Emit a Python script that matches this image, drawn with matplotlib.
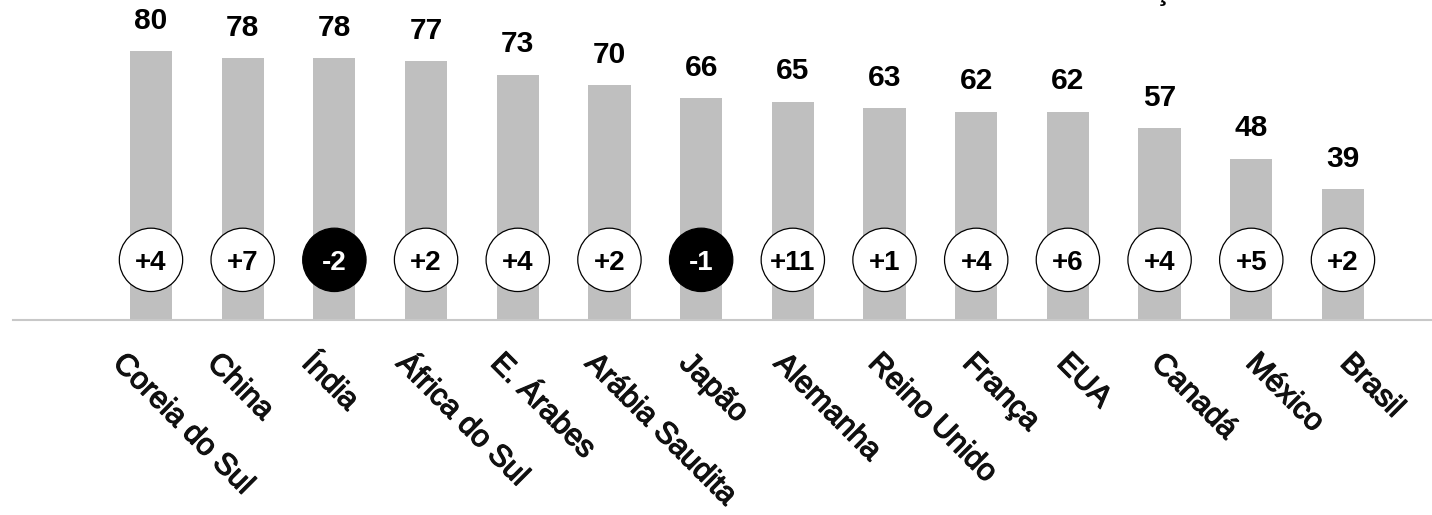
import numpy as np
import matplotlib.pyplot as plt
import matplotlib.patheffects as pe

# dados
paises = ['Coreia do Sul', 'China', 'Índia', 'África do Sul', 'E. Árabes',
          'Arábia Saudita', 'Japão', 'Alemanha', 'Reino Unido', 'França',
          'EUA', 'Canadá', 'México', 'Brasil']
valores = [80, 78, 78, 77, 73, 70, 66, 65, 63, 62, 62, 57, 48, 39]
variacao = [4, 7, -2, 2, 4, 2, -1, 11, 1, 4, 6, 4, 5, 2]

plt.rcParams['font.family'] = ['Liberation Sans', 'DejaVu Sans']

W, H = 1432, 515
fig = plt.figure(figsize=(W / 100, H / 100), dpi=100)
ax = fig.add_axes([13 / W, 195 / H, 1419 / W, 320 / H])

x = np.arange(len(paises))
ax.bar(x, valores, width=0.46, color='#bfbfbf', zorder=1)

# rótulos de valor
for xi, v in zip(x, valores):
    ax.annotate(str(v), (xi, v), xytext=(0, 16), textcoords='offset points',
                ha='center', va='baseline', fontsize=21.5, fontweight='bold')

# círculos com a variação
ycirc = 17.9
cores = ['black' if d < 0 else 'white' for d in variacao]
ax.scatter(x, [ycirc] * len(x), s=2080, c=cores, edgecolors='black',
           linewidths=0.9, zorder=3)
for xi, d in zip(x, variacao):
    txt = f'+{d}' if d > 0 else str(d)
    ax.text(xi, ycirc - 0.9, txt, ha='center', va='center', fontsize=20,
            fontweight='bold', color='white' if d < 0 else 'black', zorder=4)

# rótulos do eixo x (inclinados), peso intermédio
trans = ax.get_xaxis_transform()
engrossar = [pe.withStroke(linewidth=0.9, foreground='#111111')]
for i, nome in enumerate(paises):
    ax.text(i * 1.0296 - 0.25, -0.088, nome, transform=trans, rotation=-45,
            rotation_mode='anchor', ha='left', va='top', fontsize=22,
            color='#111111', path_effects=engrossar)

ax.set_xlim(-1.505, -1.505 + 1419 / 91.69)
ax.set_ylim(0, 320 / 3.36)
for s in ['top', 'right', 'left']:
    ax.spines[s].set_visible(False)
ax.spines['bottom'].set_color('#c8c8c8')
ax.spines['bottom'].set_linewidth(1.5)
ax.set_xticks([])
ax.set_yticks([])

# fragmento do título cortado no topo
fig.text(1163 / W, 1.0, 'ç', ha='center', va='baseline', fontsize=20,
         fontweight='bold')

fig.savefig('out.png', dpi=100, facecolor='white')
